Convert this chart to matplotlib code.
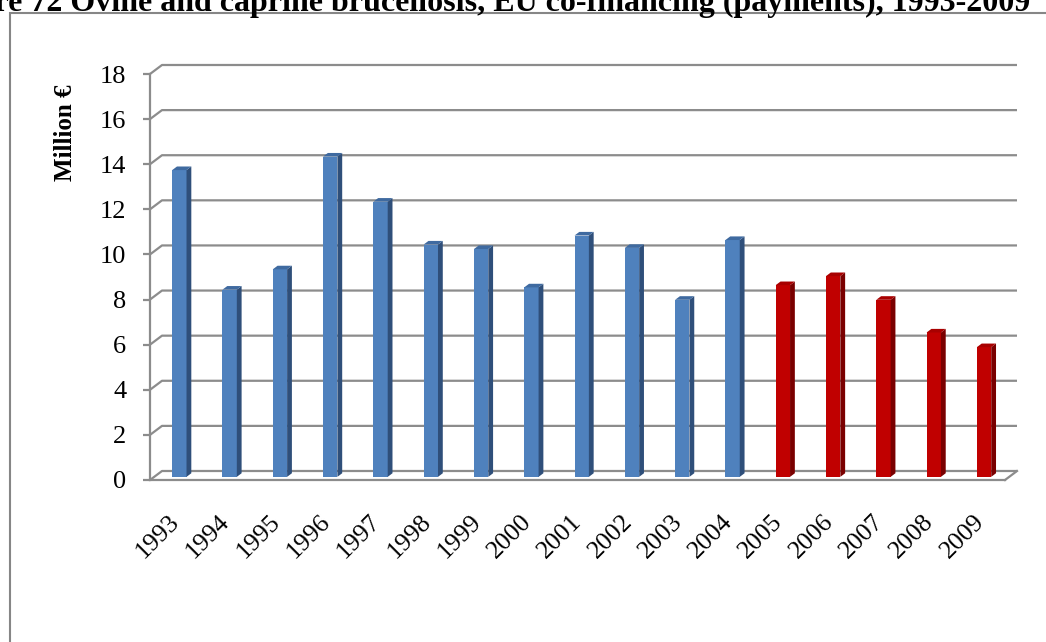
import numpy as np
import matplotlib
matplotlib.use('Agg')
import matplotlib.pyplot as plt
from matplotlib.patches import Polygon, Rectangle
from matplotlib.transforms import ScaledTranslation

plt.rcParams['font.family'] = ['Liberation Serif', 'DejaVu Serif']

# data (million EUR)
years = ['1993', '1994', '1995', '1996', '1997', '1998', '1999', '2000', '2001',
         '2002', '2003', '2004', '2005', '2006', '2007', '2008', '2009']
payments = [13.6, 8.3, 9.2, 14.2, 12.2, 10.3, 10.1, 8.4, 10.7,
            10.15, 7.85, 10.5, 8.5, 8.9, 7.85, 6.4, 5.75]
red_from = '2005'   # later years are drawn in red
y_ticks = list(range(0, 19, 2))
title = 'Figure 72 Ovine and caprine brucellosis, EU co-financing (payments), 1993-2009'
ylabel = 'Million €'

W, H = 1046, 642
fig = plt.figure(figsize=(W / 100, H / 100), dpi=100)
fig.patch.set_facecolor('white')

# front plane of the 3d box: x 150..1005 px, y 480..74 px
ax = fig.add_axes([150 / W, (H - 480) / H, 855 / W, 406 / H])
ax.set_xlim(-0.5, 16.5)
ax.set_ylim(0, 18)
ax.patch.set_alpha(0)

grid_c = '#8c8c8c'
dx, dy = 12 / 50.3, 9 / 22.55      # depth of the box in data units
f, bd = 0.35, 0.4                   # bar position / depth as part of box depth
w = 0.285

# back wall gridlines + side wall diagonals
for v in y_ticks:
    ax.plot([-0.5, -0.5 + dx, 16.5 + dx], [v, v + dy, v + dy], color=grid_c,
            lw=1.6, clip_on=False, zorder=1, solid_capstyle='butt')
ax.plot([16.5, 16.5 + dx], [0, dy], color=grid_c, lw=1.6, clip_on=False, zorder=1)

for spine in ['top', 'right']:
    ax.spines[spine].set_visible(False)
for spine in ['left', 'bottom']:
    ax.spines[spine].set_color(grid_c)
    ax.spines[spine].set_linewidth(1.6)
    ax.spines[spine].set_zorder(2)

# bars
x = np.arange(len(years))
red_idx = years.index(red_from)
for i, v in enumerate(payments):
    if i >= red_idx:
        c_front, c_side, c_top = '#c00000', '#7a0000', '#a80000'
    else:
        c_front, c_side, c_top = '#4f81bd', '#2f4f7a', '#3f6aa0'
    x0 = x[i] - w / 2 + f * dx
    b = f * dy
    ax.bar(x0, v, width=w, bottom=b, align='edge', color=c_front, lw=0,
           zorder=5, clip_on=False)
    ax.add_patch(Polygon([(x0 + w, b), (x0 + w + bd * dx, b + bd * dy),
                          (x0 + w + bd * dx, b + bd * dy + v), (x0 + w, b + v)],
                         closed=True, fc=c_side, lw=0, zorder=5, clip_on=False))
    ax.add_patch(Polygon([(x0, b + v), (x0 + w, b + v),
                          (x0 + w + bd * dx, b + v + bd * dy), (x0 + bd * dx, b + v + bd * dy)],
                         closed=True, fc=c_top, lw=0, zorder=5, clip_on=False))

ax.set_yticks(y_ticks)
ax.set_yticklabels([str(t) for t in y_ticks])
ax.tick_params(axis='y', direction='out', length=5, width=1.6, color=grid_c,
               labelsize=19, pad=12)
ax.set_xticks(x)
ax.set_xticklabels(years)
ax.tick_params(axis='x', length=0, labelsize=18.5, pad=22)
for lab in ax.get_xticklabels():
    lab.set_rotation(45)
    lab.set_ha('right')
    lab.set_va('top')
    lab.set_rotation_mode('anchor')
    lab.set_transform(lab.get_transform() + ScaledTranslation(-0.07, 0, fig.dpi_scale_trans))

fig.text(66 / W, 1 - 133 / H, ylabel, rotation=90, ha='center', va='center',
         fontsize=18, fontweight='bold')

# chart border (runs off the page right and bottom)
fig.add_artist(Rectangle((10 / W, -0.1), 1.2, 1 - 13 / H + 0.1, transform=fig.transFigure,
                         fill=False, ec='#868686', lw=1.5))

# title is cut off by the page edge in the original
fig.text(1030 / W, 1 - 10.5 / H, title, ha='right', va='baseline',
         fontsize=23, fontweight='bold')

fig.savefig('out.png', dpi=100)
